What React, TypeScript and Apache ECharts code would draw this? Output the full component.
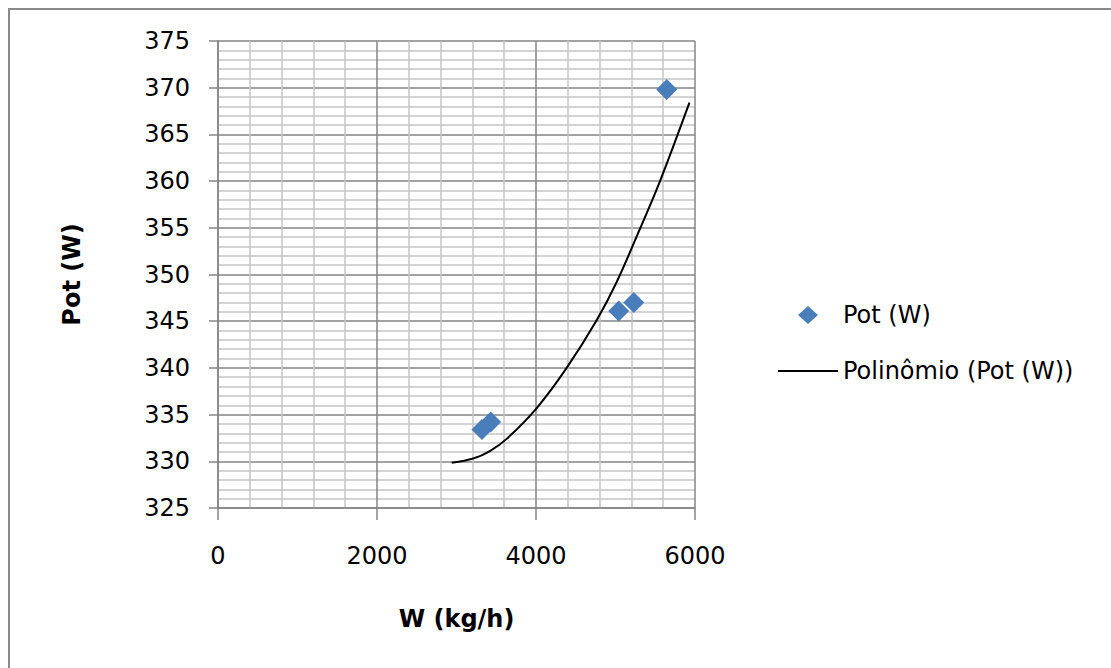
import React, { useEffect, useRef } from "react";
import * as echarts from "echarts";

const xTicks = [0, 2000, 4000, 6000];
const yTicks = [325, 330, 335, 340, 345, 350, 355, 360, 365, 370, 375];

const potX = [3320, 3430, 5040, 5230, 5645];
const potY = [333.4, 334.2, 346.1, 347.0, 369.8];

const trendX = [2940, 3211, 3420, 3631, 4009, 4386, 4763, 5015, 5308, 5560, 5930];
const trendY = [329.85, 330.3, 331.1, 332.4, 335.7, 340.0, 345.1, 349.2, 354.9, 360.0, 368.4];

const seriesNames = ["Pot (W)", "Polinômio (Pot (W))"];
const xName = "W (kg/h)";
const yName = "Pot (W)";

const FONT = "'DejaVu Sans', Verdana, sans-serif";
const FS = 24;

export default function App() {
  const ref = useRef<HTMLDivElement>(null);
  useEffect(() => {
    if (!ref.current) return;
    const chart = echarts.init(ref.current, undefined, { renderer: "svg" });
    const majorLine = { color: "#858585", width: 1.5 };
    chart.setOption({
      animation: false,
      backgroundColor: "#ffffff",
      textStyle: { fontFamily: FONT },
      graphic: [
        {
          type: "rect",
          shape: { x: 9, y: 9, width: 1300, height: 900 },
          style: { fill: "none", stroke: "#8a8a8a", lineWidth: 2 },
          silent: true,
          z: -1,
        },
      ],
      grid: { left: 218, top: 41, right: 416, bottom: 160, containLabel: false },
      legend: [
        {
          data: [{ name: seriesNames[0], icon: "diamond" }],
          left: 793,
          top: 298,
          itemWidth: 20,
          itemHeight: 18,
          textStyle: { fontFamily: FONT, fontSize: FS, color: "#000", padding: [0, 0, 0, 20] },
          selectedMode: false,
        },
        {
          data: [{ name: seriesNames[1], icon: "rect" }],
          left: 773,
          top: 354,
          itemWidth: 60,
          itemHeight: 2,
          itemStyle: { color: "#000000", borderWidth: 0 },
          textStyle: { fontFamily: FONT, fontSize: FS, color: "#000" },
          selectedMode: false,
        },
      ],
      xAxis: {
        type: "value",
        min: xTicks[0],
        max: xTicks[xTicks.length - 1],
        interval: 2000,
        name: xName,
        nameLocation: "middle",
        nameGap: 99,
        nameTextStyle: { fontFamily: FONT, fontSize: FS, fontWeight: "bold", color: "#000" },
        axisLine: { show: true, lineStyle: majorLine },
        axisTick: { show: true, length: 12, lineStyle: majorLine },
        axisLabel: {
          margin: 36,
          fontFamily: FONT,
          fontSize: FS,
          color: "#000",
          formatter: (v: number) => String(v),
        },
        splitLine: { show: true, lineStyle: majorLine },
        minorTick: { show: false, splitNumber: 5 },
        minorSplitLine: { show: true, lineStyle: { color: "#c4c4c4", width: 1.5 } },
      },
      yAxis: {
        type: "value",
        min: yTicks[0],
        max: yTicks[yTicks.length - 1],
        interval: 5,
        name: yName,
        nameLocation: "middle",
        nameGap: 134,
        nameTextStyle: { fontFamily: FONT, fontSize: FS, fontWeight: "bold", color: "#000" },
        axisLine: { show: true, lineStyle: majorLine },
        axisTick: { show: true, length: 9, lineStyle: majorLine },
        axisLabel: { margin: 28, fontFamily: FONT, fontSize: FS, color: "#000" },
        splitLine: { show: true, lineStyle: majorLine },
        minorTick: { show: false, splitNumber: 5 },
        minorSplitLine: { show: true, lineStyle: { color: "#c4c4c4", width: 1.5 } },
      },
      series: [
        {
          name: seriesNames[0],
          type: "scatter",
          symbol: "diamond",
          symbolSize: 21,
          itemStyle: { color: "#4a7ebb", opacity: 1 },
          data: potX.map((x, i) => [x, potY[i]]),
          z: 3,
        },
        {
          name: seriesNames[1],
          type: "line",
          smooth: 0.35,
          symbol: "none",
          showSymbol: false,
          lineStyle: { color: "#000000", width: 2 },
          itemStyle: { color: "#000000" },
          data: trendX.map((x, i) => [x, trendY[i]]),
          z: 2,
        },
      ],
    });
    return () => chart.dispose();
  }, []);
  return (
    <div
      ref={ref}
      style={{ position: "absolute", left: 0, top: 0, width: 1111, height: 668 }}
    />
  );
}
